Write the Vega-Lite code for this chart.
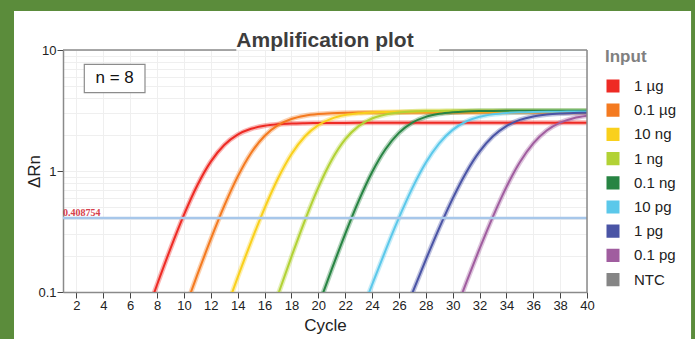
{
  "$schema": "https://vega.github.io/schema/vega-lite/v6.json",
  "width": 524,
  "height": 242,
  "autosize": {"type": "none"},
  "padding": {"left": 63, "top": 50, "right": 108, "bottom": 47},
  "background": "#ffffff",
  "config": {
    "view": {"stroke": null},
    "font": "Liberation Sans",
    "axis": {"labelOverlap": false, "labelBound": false, "labelFlush": false, "gridColor": "#efefef", "domainColor": "#8a8a8a", "domainWidth": 1.5, "tickSize": 6, "tickColor": "#444444", "labelFontSize": 13, "labelColor": "#222222", "labelPadding": 1, "titleFontSize": 17, "titleFontWeight": "normal", "titleColor": "#222222", "grid": true}
  },
  "datasets": {
    "curves": [
      {"s": "1 µg", "c": 7, "v": 0.0563}, {"s": "1 µg", "c": 8, "v": 0.1148}, {"s": "1 µg", "c": 9, "v": 0.2285}, {"s": "1 µg", "c": 10, "v": 0.4337}, {"s": "1 µg", "c": 11, "v": 0.762}, {"s": "1 µg", "c": 12, "v": 1.195}, {"s": "1 µg", "c": 13, "v": 1.641}, {"s": "1 µg", "c": 14, "v": 1.999}, {"s": "1 µg", "c": 15, "v": 2.232}, {"s": "1 µg", "c": 16, "v": 2.364}, {"s": "1 µg", "c": 17, "v": 2.433}, {"s": "1 µg", "c": 18, "v": 2.468}, {"s": "1 µg", "c": 19, "v": 2.484}, {"s": "1 µg", "c": 20, "v": 2.493}, {"s": "1 µg", "c": 21, "v": 2.496}, {"s": "1 µg", "c": 22, "v": 2.498}, {"s": "1 µg", "c": 23, "v": 2.499}, {"s": "1 µg", "c": 24, "v": 2.5}, {"s": "1 µg", "c": 26, "v": 2.5}, {"s": "1 µg", "c": 28, "v": 2.5}, {"s": "1 µg", "c": 30, "v": 2.5}, {"s": "1 µg", "c": 32, "v": 2.5}, {"s": "1 µg", "c": 34, "v": 2.5}, {"s": "1 µg", "c": 36, "v": 2.5}, {"s": "1 µg", "c": 38, "v": 2.5}, {"s": "1 µg", "c": 40, "v": 2.5},
      {"s": "0.1 µg", "c": 10, "v": 0.0692}, {"s": "0.1 µg", "c": 11, "v": 0.139}, {"s": "0.1 µg", "c": 12, "v": 0.273}, {"s": "0.1 µg", "c": 13, "v": 0.514}, {"s": "0.1 µg", "c": 14, "v": 0.898}, {"s": "0.1 µg", "c": 15, "v": 1.409}, {"s": "0.1 µg", "c": 16, "v": 1.949}, {"s": "0.1 µg", "c": 17, "v": 2.393}, {"s": "0.1 µg", "c": 18, "v": 2.692}, {"s": "0.1 µg", "c": 19, "v": 2.865}, {"s": "0.1 µg", "c": 20, "v": 2.957}, {"s": "0.1 µg", "c": 21, "v": 3.004}, {"s": "0.1 µg", "c": 22, "v": 3.028}, {"s": "0.1 µg", "c": 23, "v": 3.039}, {"s": "0.1 µg", "c": 24, "v": 3.045}, {"s": "0.1 µg", "c": 25, "v": 3.048}, {"s": "0.1 µg", "c": 26, "v": 3.05}, {"s": "0.1 µg", "c": 28, "v": 3.05}, {"s": "0.1 µg", "c": 30, "v": 3.05}, {"s": "0.1 µg", "c": 32, "v": 3.05}, {"s": "0.1 µg", "c": 34, "v": 3.05}, {"s": "0.1 µg", "c": 36, "v": 3.05}, {"s": "0.1 µg", "c": 38, "v": 3.05}, {"s": "0.1 µg", "c": 40, "v": 3.05},
      {"s": "10 ng", "c": 13, "v": 0.0654}, {"s": "10 ng", "c": 14, "v": 0.1319}, {"s": "10 ng", "c": 15, "v": 0.26}, {"s": "10 ng", "c": 16, "v": 0.4915}, {"s": "10 ng", "c": 17, "v": 0.867}, {"s": "10 ng", "c": 18, "v": 1.377}, {"s": "10 ng", "c": 19, "v": 1.929}, {"s": "10 ng", "c": 20, "v": 2.394}, {"s": "10 ng", "c": 21, "v": 2.712}, {"s": "10 ng", "c": 22, "v": 2.899}, {"s": "10 ng", "c": 23, "v": 2.999}, {"s": "10 ng", "c": 24, "v": 3.05}, {"s": "10 ng", "c": 25, "v": 3.076}, {"s": "10 ng", "c": 26, "v": 3.088}, {"s": "10 ng", "c": 27, "v": 3.094}, {"s": "10 ng", "c": 28, "v": 3.097}, {"s": "10 ng", "c": 30, "v": 3.1}, {"s": "10 ng", "c": 32, "v": 3.1}, {"s": "10 ng", "c": 34, "v": 3.1}, {"s": "10 ng", "c": 36, "v": 3.1}, {"s": "10 ng", "c": 38, "v": 3.1}, {"s": "10 ng", "c": 40, "v": 3.1},
      {"s": "1 ng", "c": 16, "v": 0.045}, {"s": "1 ng", "c": 17, "v": 0.0946}, {"s": "1 ng", "c": 18, "v": 0.1954}, {"s": "1 ng", "c": 19, "v": 0.3896}, {"s": "1 ng", "c": 20, "v": 0.73}, {"s": "1 ng", "c": 21, "v": 1.234}, {"s": "1 ng", "c": 22, "v": 1.824}, {"s": "1 ng", "c": 23, "v": 2.35}, {"s": "1 ng", "c": 24, "v": 2.717}, {"s": "1 ng", "c": 25, "v": 2.931}, {"s": "1 ng", "c": 26, "v": 3.044}, {"s": "1 ng", "c": 27, "v": 3.099}, {"s": "1 ng", "c": 28, "v": 3.126}, {"s": "1 ng", "c": 29, "v": 3.139}, {"s": "1 ng", "c": 30, "v": 3.145}, {"s": "1 ng", "c": 31, "v": 3.148}, {"s": "1 ng", "c": 32, "v": 3.15}, {"s": "1 ng", "c": 34, "v": 3.15}, {"s": "1 ng", "c": 36, "v": 3.15}, {"s": "1 ng", "c": 38, "v": 3.15}, {"s": "1 ng", "c": 40, "v": 3.15},
      {"s": "0.1 ng", "c": 20, "v": 0.0766}, {"s": "0.1 ng", "c": 21, "v": 0.1537}, {"s": "0.1 ng", "c": 22, "v": 0.301}, {"s": "0.1 ng", "c": 23, "v": 0.563}, {"s": "0.1 ng", "c": 24, "v": 0.975}, {"s": "0.1 ng", "c": 25, "v": 1.512}, {"s": "0.1 ng", "c": 26, "v": 2.065}, {"s": "0.1 ng", "c": 27, "v": 2.51}, {"s": "0.1 ng", "c": 28, "v": 2.802}, {"s": "0.1 ng", "c": 29, "v": 2.971}, {"s": "0.1 ng", "c": 30, "v": 3.061}, {"s": "0.1 ng", "c": 31, "v": 3.106}, {"s": "0.1 ng", "c": 32, "v": 3.128}, {"s": "0.1 ng", "c": 33, "v": 3.139}, {"s": "0.1 ng", "c": 34, "v": 3.145}, {"s": "0.1 ng", "c": 35, "v": 3.148}, {"s": "0.1 ng", "c": 36, "v": 3.15}, {"s": "0.1 ng", "c": 38, "v": 3.15}, {"s": "0.1 ng", "c": 40, "v": 3.15},
      {"s": "10 pg", "c": 23, "v": 0.0585}, {"s": "10 pg", "c": 24, "v": 0.1144}, {"s": "10 pg", "c": 25, "v": 0.22}, {"s": "10 pg", "c": 26, "v": 0.4094}, {"s": "10 pg", "c": 27, "v": 0.7214}, {"s": "10 pg", "c": 28, "v": 1.168}, {"s": "10 pg", "c": 29, "v": 1.694}, {"s": "10 pg", "c": 30, "v": 2.188}, {"s": "10 pg", "c": 31, "v": 2.564}, {"s": "10 pg", "c": 32, "v": 2.806}, {"s": "10 pg", "c": 33, "v": 2.945}, {"s": "10 pg", "c": 34, "v": 3.02}, {"s": "10 pg", "c": 35, "v": 3.059}, {"s": "10 pg", "c": 36, "v": 3.08}, {"s": "10 pg", "c": 37, "v": 3.09}, {"s": "10 pg", "c": 38, "v": 3.095}, {"s": "10 pg", "c": 39, "v": 3.097}, {"s": "10 pg", "c": 40, "v": 3.099},
      {"s": "1 pg", "c": 26, "v": 0.0515}, {"s": "1 pg", "c": 27, "v": 0.0981}, {"s": "1 pg", "c": 28, "v": 0.1843}, {"s": "1 pg", "c": 29, "v": 0.3375}, {"s": "1 pg", "c": 30, "v": 0.5914}, {"s": "1 pg", "c": 31, "v": 0.9686}, {"s": "1 pg", "c": 32, "v": 1.445}, {"s": "1 pg", "c": 33, "v": 1.937}, {"s": "1 pg", "c": 34, "v": 2.352}, {"s": "1 pg", "c": 35, "v": 2.644}, {"s": "1 pg", "c": 36, "v": 2.826}, {"s": "1 pg", "c": 37, "v": 2.93}, {"s": "1 pg", "c": 38, "v": 2.987}, {"s": "1 pg", "c": 39, "v": 3.017}, {"s": "1 pg", "c": 40, "v": 3.033},
      {"s": "0.1 pg", "c": 30, "v": 0.0605}, {"s": "0.1 pg", "c": 31, "v": 0.1183}, {"s": "0.1 pg", "c": 32, "v": 0.2269}, {"s": "0.1 pg", "c": 33, "v": 0.4205}, {"s": "0.1 pg", "c": 34, "v": 0.7358}, {"s": "0.1 pg", "c": 35, "v": 1.179}, {"s": "0.1 pg", "c": 36, "v": 1.69}, {"s": "0.1 pg", "c": 37, "v": 2.16}, {"s": "0.1 pg", "c": 38, "v": 2.51}, {"s": "0.1 pg", "c": 39, "v": 2.732}, {"s": "0.1 pg", "c": 40, "v": 2.86}
    ]
  },
  "layer": [
    {
      "data": {"name": "curves"},
      "mark": {"type": "line", "clip": true, "strokeWidth": 5, "opacity": 0.35, "interpolate": "monotone"},
      "encoding": {
        "x": {"field": "c", "type": "quantitative", "scale": {"domain": [1, 40], "nice": false, "zero": false},
          "axis": {"title": "Cycle", "values": [2,4,6,8,10,12,14,16,18,20,22,24,26,28,30,32,34,36,38,40], "tickCount": 40, "labelOverlap": false, "titlePadding": 5}},
        "y": {"field": "v", "type": "quantitative", "scale": {"type": "log", "domain": [0.1, 10], "nice": false},
          "axis": {"title": "ΔRn", "values": [0.1,0.2,0.3,0.4,0.5,0.6,0.7,0.8,0.9,1,2,3,4,5,6,7,8,9,10], "format": "~g", "labelOverlap": false, "labelExpr": "(datum.value == 0.1 || datum.value == 1 || datum.value == 10) ? datum.label : ''", "tickOpacity": {"condition": {"test": "datum.value == 0.1 || datum.value == 1 || datum.value == 10", "value": 1}, "value": 0}, "titlePadding": -6}},
        "color": {"field": "s", "type": "nominal",
          "scale": {"domain": ["1 µg", "0.1 µg", "10 ng", "1 ng", "0.1 ng", "10 pg", "1 pg", "0.1 pg", "NTC"], "range": ["#ee2a24", "#f47a20", "#f9d01c", "#b2d235", "#278443", "#5bc8ea", "#4a54a5", "#a05d9f", "#858585"]},
          "legend": {"title": "Input", "orient": "none", "legendX": 542, "legendY": -1, "titleFontSize": 17, "titleFontWeight": "bold", "titleColor": "#808080", "titlePadding": 12, "labelFontSize": 15, "labelColor": "#222222", "labelOffset": 13, "symbolType": "M-1,-0.8H1M-1,-0.4H1M-1,0H1M-1,0.4H1M-1,0.8H1", "symbolSize": 169, "symbolStrokeWidth": 2.8, "symbolOpacity": 1, "rowPadding": 2.2, "padding": 0}}
      }
    },
    {
      "data": {"name": "curves"},
      "mark": {"type": "line", "clip": true, "strokeWidth": 2, "interpolate": "monotone"},
      "encoding": {
        "x": {"field": "c", "type": "quantitative",
          "axis": {"title": "Cycle", "values": [2,4,6,8,10,12,14,16,18,20,22,24,26,28,30,32,34,36,38,40], "tickCount": 40, "labelOverlap": false, "titlePadding": 5}},
        "y": {"field": "v", "type": "quantitative",
          "axis": {"title": "ΔRn", "values": [0.1,0.2,0.3,0.4,0.5,0.6,0.7,0.8,0.9,1,2,3,4,5,6,7,8,9,10], "format": "~g", "labelOverlap": false, "labelExpr": "(datum.value == 0.1 || datum.value == 1 || datum.value == 10) ? datum.label : ''", "tickOpacity": {"condition": {"test": "datum.value == 0.1 || datum.value == 1 || datum.value == 10", "value": 1}, "value": 0}, "titlePadding": -6}},
        "color": {"field": "s", "type": "nominal"}
      }
    },
    {
      "data": {"values": [{}]},
      "mark": {"type": "rule", "color": "#a7c7ea", "strokeWidth": 2.5},
      "encoding": {"x": {"datum": 1, "type": "quantitative"}, "x2": {"datum": 40}, "y": {"datum": 0.408754, "type": "quantitative"}}
    },
    {
      "data": {"values": [{}]},
      "mark": {"type": "text", "text": "0.408754", "font": "Liberation Serif", "fontWeight": "bold", "fontSize": 10, "color": "#d6404c", "align": "left", "baseline": "alphabetic", "dy": -2},
      "encoding": {"x": {"datum": 1, "type": "quantitative"}, "y": {"datum": 0.408754, "type": "quantitative"}}
    },
    {
      "data": {"values": [{}]},
      "mark": {"type": "rect", "fill": "#ffffff", "stroke": "#8c8c8c", "strokeWidth": 1.2},
      "encoding": {"x": {"datum": 2.585, "type": "quantitative"}, "x2": {"datum": 7.103}, "y": {"datum": 7.616, "type": "quantitative"}, "y2": {"datum": 4.437}}
    },
    {
      "data": {"values": [{}]},
      "mark": {"type": "text", "text": "n = 8", "fontSize": 17, "color": "#111111", "align": "center", "baseline": "middle"},
      "encoding": {"x": {"datum": 4.844, "type": "quantitative"}, "y": {"datum": 5.814, "type": "quantitative"}}
    },
    {
      "data": {"values": [{}]},
      "mark": {"type": "rule", "color": "#8a8a8a", "strokeWidth": 1.5},
      "encoding": {"x": {"datum": 1, "type": "quantitative"}, "x2": {"datum": 13.9}, "y": {"datum": 10, "type": "quantitative"}}
    },
    {
      "data": {"values": [{}]},
      "mark": {"type": "rule", "color": "#8a8a8a", "strokeWidth": 1.5},
      "encoding": {"x": {"datum": 29.0, "type": "quantitative"}, "x2": {"datum": 40}, "y": {"datum": 10, "type": "quantitative"}}
    },
    {
      "data": {"values": [{}]},
      "mark": {"type": "rule", "color": "#8a8a8a", "strokeWidth": 1.5},
      "encoding": {"x": {"datum": 40, "type": "quantitative"}, "y": {"datum": 0.1, "type": "quantitative"}, "y2": {"datum": 10}}
    },
    {
      "data": {"values": [{}]},
      "mark": {"type": "text", "text": "Amplification plot", "fontSize": 21, "fontWeight": "bold", "color": "#3d3d3d", "align": "center", "baseline": "alphabetic", "dy": -3},
      "encoding": {"x": {"datum": 20.5, "type": "quantitative"}, "y": {"datum": 10, "type": "quantitative"}}
    },
    {
      "data": {"values": [{}]},
      "mark": {"type": "rect", "filled": false, "stroke": "#5b8c3b", "strokeWidth": 16, "clip": false},
      "encoding": {"x": {"datum": -3.242, "type": "quantitative"}, "x2": {"datum": 48.34}, "y": {"datum": 24.46, "type": "quantitative"}, "y2": {"datum": 0.01875}}
    }
  ]
}
